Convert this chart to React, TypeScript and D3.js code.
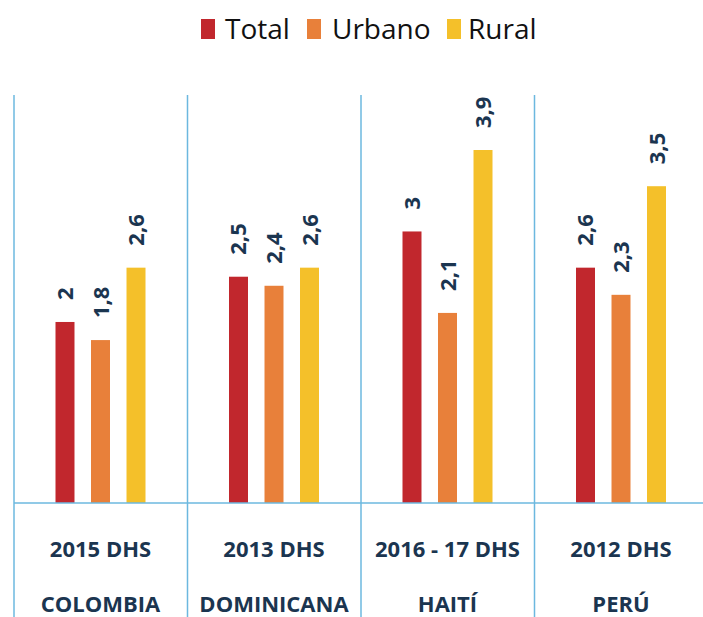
import React from "react";
import * as d3 from "d3";

const countries = ["COLOMBIA", "DOMINICANA", "HAITÍ", "PERÚ"];
const surveys = ["2015 DHS", "2013 DHS", "2016 - 17 DHS", "2012 DHS"];
const series = ["Total", "Urbano", "Rural"];
const totalValues = [2, 2.5, 3, 2.6];
const urbanoValues = [1.8, 2.4, 2.1, 2.3];
const ruralValues = [2.6, 2.6, 3.9, 3.5];
const valueLabels = [
  ["2", "1,8", "2,6"],
  ["2,5", "2,4", "2,6"],
  ["3", "2,1", "3,9"],
  ["2,6", "2,3", "3,5"],
];
const colors = ["#C1272D", "#E8803A", "#F4C02A"];

const W = 703;
const H = 617;
const BASE = 503;
const FONT = "'Open Sans', sans-serif";
const TEXT = "#1B3550";
const GRID = "#6CB8DF";

export default function App() {
  const data = [totalValues, urbanoValues, ruralValues];
  const x0 = d3.scaleBand<string>().domain(countries).range([14, 14 + 4 * 173.5]).padding(0);
  const x1 = d3.scaleBand<string>().domain(series).range([41.5, 131.5]).paddingInner(0.465).paddingOuter(0);
  const y = d3.scaleLinear().domain([0, 3.9]).range([BASE, BASE - 353]);

  const legendItems = [
    { name: "Total", sx: 201, tx: 225 },
    { name: "Urbano", sx: 307, tx: 332 },
    { name: "Rural", sx: 447, tx: 468 },
  ];

  return (
    <svg width={W} height={H} style={{ position: "absolute", left: 0, top: 0, background: "#fff" }}>
      {legendItems.map((l, i) => (
        <g key={l.name}>
          <rect x={l.sx} y={19} width={14} height={20} fill={colors[i]} />
          <text x={l.tx} y={39} fontFamily={FONT} fontSize={28} fill="#111">{l.name}</text>
        </g>
      ))}
      {countries.map((c) => (
        <line key={c} x1={x0(c)!} x2={x0(c)!} y1={95} y2={H} stroke={GRID} strokeWidth={1.5} />
      ))}
      {countries.map((c, ci) => {
        const gx = x0(c)!;
        const cx = gx + x1(series[1])! + x1.bandwidth() / 2;
        return (
          <g key={c}>
            {series.map((s, si) => {
              const v = data[si][ci];
              const bx = gx + x1(s)!;
              const top = y(v);
              const lx = bx + x1.bandwidth() / 2 + 8;
              const ly = top - 22;
              return (
                <g key={s}>
                  <rect x={bx} y={top} width={x1.bandwidth()} height={BASE - top} fill={colors[si]} />
                  <text
                    transform={`translate(${lx},${ly}) rotate(-90)`}
                    fontFamily={FONT}
                    fontWeight={700}
                    fontSize={22}
                    fill={TEXT}
                  >
                    {valueLabels[ci][si]}
                  </text>
                </g>
              );
            })}
            <text x={cx} y={557} textAnchor="middle" fontFamily={FONT} fontWeight={700} fontSize={22} fill={TEXT}>
              {surveys[ci]}
            </text>
            <text x={cx} y={612} textAnchor="middle" fontFamily={FONT} fontWeight={700} fontSize={22} fill={TEXT}>
              {c}
            </text>
          </g>
        );
      })}
      <line x1={14} x2={W} y1={BASE} y2={BASE} stroke={GRID} strokeWidth={1.5} />
    </svg>
  );
}
